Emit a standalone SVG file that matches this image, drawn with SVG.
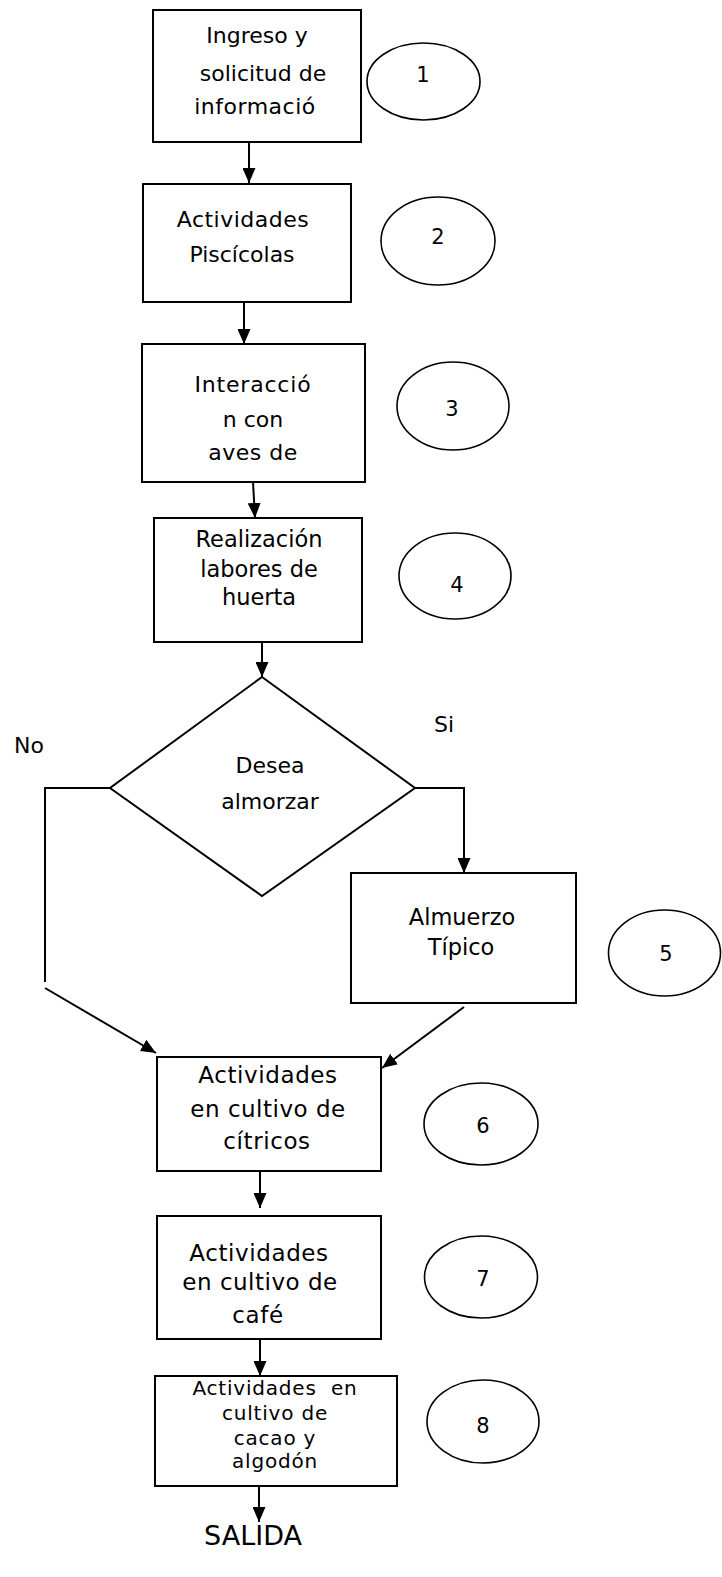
<svg xmlns="http://www.w3.org/2000/svg" width="722" height="1577" viewBox="0 0 722 1577">
<style>
  .box{fill:#fff;stroke:#000;stroke-width:2}
  .oval{fill:#fff;stroke:#000;stroke-width:1.6}
  .t{font-family:"DejaVu Sans","Liberation Sans",sans-serif;font-size:22px;fill:#000;text-anchor:middle}
  .t8{font-family:"DejaVu Sans","Liberation Sans",sans-serif;font-size:20px;letter-spacing:0.8px;fill:#000;text-anchor:middle}
  .n{font-family:"DejaVu Sans","Liberation Sans",sans-serif;font-size:21px;fill:#000;text-anchor:middle}
  .lbl{font-family:"DejaVu Sans","Liberation Sans",sans-serif;font-size:22px;fill:#000}
  .c{fill:none;stroke:#000;stroke-width:2}
</style>
<defs>
  <marker id="ah" markerUnits="userSpaceOnUse" markerWidth="15" markerHeight="13" viewBox="0 0 15 13" refX="15" refY="6.5" orient="auto">
    <path d="M0,0 L15,6.5 L0,13 z" fill="#000"/>
  </marker>
</defs>
<g id="connectors">
  <line class="c" x1="249" y1="142" x2="249" y2="183" marker-end="url(#ah)"/>
  <line class="c" x1="244" y1="302" x2="244" y2="344" marker-end="url(#ah)"/>
  <line class="c" x1="253" y1="482" x2="255" y2="518" marker-end="url(#ah)"/>
  <line class="c" x1="262" y1="642" x2="262" y2="677" marker-end="url(#ah)"/>
  <polyline class="c" points="110,788 45,788 45,982"/>
  <line class="c" x1="45" y1="988" x2="156" y2="1053" marker-end="url(#ah)"/>
  <polyline class="c" points="415,788 464,788 464,873" marker-end="url(#ah)"/>
  <line class="c" x1="464" y1="1007" x2="382" y2="1068" marker-end="url(#ah)"/>
  <line class="c" x1="260" y1="1171" x2="260" y2="1208" marker-end="url(#ah)"/>
  <line class="c" x1="260" y1="1339" x2="260" y2="1376" marker-end="url(#ah)"/>
  <line class="c" x1="259" y1="1486" x2="259" y2="1522" marker-end="url(#ah)"/>
  <text class="lbl" x="14" y="753">No</text>
  <text class="lbl" x="434" y="732">Si</text>
</g>
<g id="n1">
  <rect class="box" x="153" y="10" width="208" height="132"/>
  <text class="t" x="257" y="43">Ingreso y</text>
  <text class="t" x="263" y="81">solicitud de</text>
  <text class="t" x="255" y="114" style="letter-spacing:0.5px">informació</text>
</g>
<g id="e1"><ellipse class="oval" cx="423.5" cy="81.5" rx="56.5" ry="38.5"/><text class="n" x="423" y="82">1</text></g>
<g id="n2">
  <rect class="box" x="143" y="184" width="208" height="118"/>
  <text class="t" x="243" y="227" style="letter-spacing:0.5px">Actividades</text>
  <text class="t" x="242" y="262">Piscícolas</text>
</g>
<g id="e2"><ellipse class="oval" cx="438" cy="241" rx="57" ry="44"/><text class="n" x="438" y="244">2</text></g>
<g id="n3">
  <rect class="box" x="142" y="344" width="223" height="138"/>
  <text class="t" x="253" y="392" style="letter-spacing:0.8px">Interacció</text>
  <text class="t" x="253" y="427">n con</text>
  <text class="t" x="253" y="460" style="letter-spacing:0.5px">aves de</text>
</g>
<g id="e3"><ellipse class="oval" cx="453" cy="406" rx="56" ry="44"/><text class="n" x="452" y="416">3</text></g>
<g id="n4">
  <rect class="box" x="154" y="518" width="208" height="124"/>
  <text class="t" x="259" y="547" style="font-size:22.5px">Realización</text>
  <text class="t" x="259" y="577" style="font-size:22.5px">labores de</text>
  <text class="t" x="259" y="605" style="font-size:22.5px">huerta</text>
</g>
<g id="e4"><ellipse class="oval" cx="455" cy="576" rx="56" ry="43"/><text class="n" x="457" y="592">4</text></g>
<g id="d1">
  <polygon class="box" points="262,677 415,788 262,896 110,788"/>
  <text class="t" x="270" y="773">Desea</text>
  <text class="t" x="270" y="809">almorzar</text>
</g>
<g id="n5">
  <rect class="box" x="351" y="873" width="225" height="130"/>
  <text class="t" x="462" y="925" style="font-size:22.5px">Almuerzo</text>
  <text class="t" x="461" y="955" style="font-size:22.5px">Típico</text>
</g>
<g id="e5"><ellipse class="oval" cx="664.5" cy="953" rx="56" ry="43"/><text class="n" x="666" y="961">5</text></g>
<g id="n6">
  <rect class="box" x="157" y="1057" width="224" height="114"/>
  <text class="t" x="268" y="1083" style="font-size:23px;letter-spacing:0.6px">Actividades</text>
  <text class="t" x="268" y="1117" style="font-size:23px;letter-spacing:0.5px">en cultivo de</text>
  <text class="t" x="267" y="1149" style="font-size:23px;letter-spacing:0.6px">cítricos</text>
</g>
<g id="e6"><ellipse class="oval" cx="481" cy="1124" rx="57" ry="41"/><text class="n" x="483" y="1133">6</text></g>
<g id="n7">
  <rect class="box" x="157" y="1216" width="224" height="123"/>
  <text class="t" x="259" y="1261" style="font-size:23px;letter-spacing:0.6px">Actividades</text>
  <text class="t" x="260" y="1290" style="font-size:23px;letter-spacing:0.5px">en cultivo de</text>
  <text class="t" x="258" y="1323" style="font-size:23px;letter-spacing:0.6px">café</text>
</g>
<g id="e7"><ellipse class="oval" cx="481" cy="1277" rx="56.5" ry="41"/><text class="n" x="483" y="1286">7</text></g>
<g id="n8">
  <rect class="box" x="155" y="1376" width="242" height="110"/>
  <text class="t8" x="275" y="1395" xml:space="preserve">Actividades  en</text>
  <text class="t8" x="275" y="1420">cultivo de</text>
  <text class="t8" x="275" y="1445">cacao y</text>
  <text class="t8" x="275" y="1468">algodón</text>
</g>
<g id="e8"><ellipse class="oval" cx="483" cy="1421.5" rx="56" ry="41.5"/><text class="n" x="483" y="1433">8</text></g>
<g id="end">
  <text class="t" x="253" y="1545" style="font-size:27px">SALIDA</text>
</g>
</svg>
